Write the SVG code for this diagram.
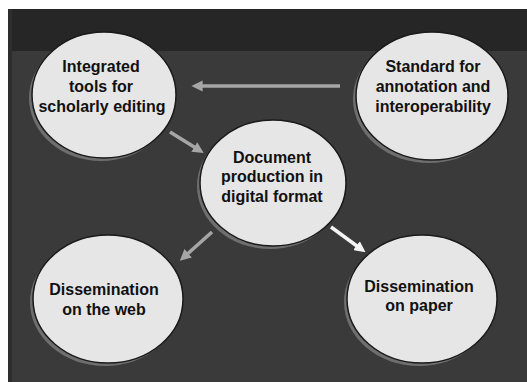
<svg xmlns="http://www.w3.org/2000/svg" width="527" height="382" viewBox="0 0 527 382">
<defs>
<style>
.sh{fill:#6e6e6e}
.nd{fill:#e6e6e6;stroke:#1a1a1a;stroke-width:1.5}
.tx{font-family:"Liberation Sans",Arial,sans-serif;font-weight:bold;font-size:16px;fill:#111;text-anchor:middle}
.ag{stroke:#a6a6a6;stroke-width:3.5;fill:none}
.aw{stroke:#f4f4f4;stroke-width:3.5;fill:none}
</style>
<marker id="mg" viewBox="0 0 10 10" refX="5" refY="5" markerWidth="3.2" markerHeight="3.2" orient="auto" markerUnits="strokeWidth">
<path d="M0,0 L10,5 L0,10 z" fill="#a6a6a6"/>
</marker>
<marker id="mw" viewBox="0 0 10 10" refX="5" refY="5" markerWidth="3.2" markerHeight="3.2" orient="auto" markerUnits="strokeWidth">
<path d="M0,0 L10,5 L0,10 z" fill="#f4f4f4"/>
</marker>
</defs>
<rect x="0" y="0" width="527" height="382" fill="#ffffff"/>
<rect x="8" y="9" width="519" height="373" fill="#3a3a3a"/>
<rect x="8" y="9" width="519" height="42" fill="#262626"/>
<rect x="8" y="9" width="4" height="373" fill="#2e2e2e"/>
<g id="connectors">
<line class="ag" x1="340" y1="86" x2="197" y2="86" marker-end="url(#mg)"/>
<line class="ag" x1="170" y1="132" x2="199" y2="150" marker-end="url(#mg)"/>
<line class="ag" x1="212" y1="232" x2="184" y2="257" marker-end="url(#mg)"/>
<line class="aw" x1="331" y1="227" x2="361" y2="249" marker-end="url(#mw)"/>
</g>
<g id="n_tools">
<ellipse class="sh" cx="101" cy="98" rx="72" ry="63"/>
<ellipse class="nd" cx="104" cy="95" rx="72" ry="63"/>
<text class="tx" x="101" y="72">Integrated</text>
<text class="tx" x="101" y="92">tools for</text>
<text class="tx" x="102" y="112">scholarly editing</text>
</g>
<g id="n_standard">
<ellipse class="sh" cx="429" cy="99" rx="76" ry="64"/>
<ellipse class="nd" cx="432" cy="96" rx="76" ry="64"/>
<text class="tx" x="433" y="72">Standard for</text>
<text class="tx" x="433" y="92">annotation and</text>
<text class="tx" x="433" y="112">interoperability</text>
</g>
<g id="n_document">
<ellipse class="sh" cx="270" cy="186" rx="73" ry="63"/>
<ellipse class="nd" cx="273" cy="183" rx="73" ry="63"/>
<text class="tx" x="272" y="163">Document</text>
<text class="tx" x="272" y="182">production in</text>
<text class="tx" x="272" y="202">digital format</text>
</g>
<g id="n_web">
<ellipse class="sh" cx="105" cy="302" rx="75" ry="64"/>
<ellipse class="nd" cx="108" cy="299" rx="75" ry="64"/>
<text class="tx" x="104" y="295">Dissemination</text>
<text class="tx" x="104" y="315">on the web</text>
</g>
<g id="n_paper">
<ellipse class="sh" cx="419" cy="302" rx="75" ry="64"/>
<ellipse class="nd" cx="422" cy="299" rx="75" ry="64"/>
<text class="tx" x="419" y="292">Dissemination</text>
<text class="tx" x="419" y="311">on paper</text>
</g>
</svg>
